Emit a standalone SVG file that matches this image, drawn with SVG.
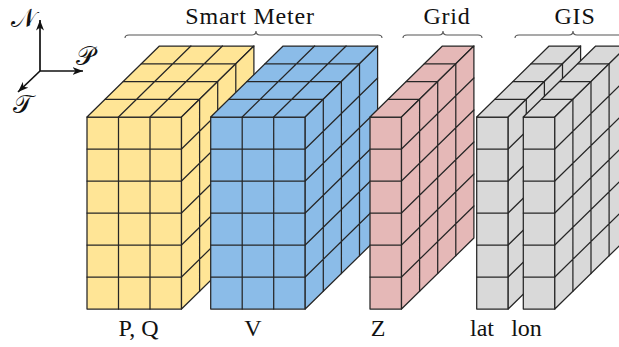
<svg xmlns="http://www.w3.org/2000/svg" xmlns:xlink="http://www.w3.org/1999/xlink" width="619" height="347" viewBox="0 0 619 347">
<style>
.cube{stroke:#262626;stroke-width:1.25;stroke-linejoin:round;stroke-linecap:round}
.grid{fill:none}
.lbl{font-size:24px;fill:#111;text-anchor:middle}
.hdr{letter-spacing:0.8px}
.brace{fill:none;stroke:#555;stroke-width:1.1}
.axis{stroke:#111;stroke-width:1.7;fill:none}
.sym{font-size:26px;fill:#111;text-anchor:middle}
</style>
<defs>
<marker id="ah" markerUnits="userSpaceOnUse" markerWidth="11" markerHeight="9" viewBox="0 0 11 9" refX="10.5" refY="4.5" orient="auto">
<path d="M0,0.5 L10.5,4.5 L0,8.5 L3,4.5 Z" fill="#111"/>
</marker>
<g id="b3" class="cube">
<rect x="0" y="117" width="94.5" height="192"/>
<polygon points="0,117 94.5,117 166.9,46 72.4,46"/>
<polygon points="94.5,117 166.9,46 166.9,238 94.5,309"/>
<path class="grid" d="M31.5,117V309M63,117V309M0,149H94.5M0,181H94.5M0,213H94.5M0,245H94.5M0,277H94.5
M31.5,117L103.9,46M63,117L135.4,46M18.1,99.25H112.6M36.2,81.5H130.7M54.3,63.75H148.8
M112.6,99.25V291.25M130.7,81.5V273.5M148.8,63.75V255.75
M94.5,149L166.9,78M94.5,181L166.9,110M94.5,213L166.9,142M94.5,245L166.9,174M94.5,277L166.9,206"/>
</g>
<g id="b1" class="cube">
<rect x="0" y="117" width="31.5" height="192"/>
<polygon points="0,117 31.5,117 103.9,46 72.4,46"/>
<polygon points="31.5,117 103.9,46 103.9,238 31.5,309"/>
<path class="grid" d="M0,149H31.5M0,181H31.5M0,213H31.5M0,245H31.5M0,277H31.5
M18.1,99.25H49.6M36.2,81.5H67.7M54.3,63.75H85.8
M49.6,99.25V291.25M67.7,81.5V273.5M85.8,63.75V255.75
M31.5,149L103.9,78M31.5,181L103.9,110M31.5,213L103.9,142M31.5,245L103.9,174M31.5,277L103.9,206"/>
</g>
</defs>

<g id="axes">
<line class="axis" x1="40" y1="71" x2="40" y2="20" marker-end="url(#ah)"/>
<line class="axis" x1="40" y1="71" x2="83" y2="71" marker-end="url(#ah)"/>
<line class="axis" x1="40" y1="71" x2="18" y2="92" marker-end="url(#ah)"/>
<text class="sym" font-family="Liberation Serif, serif" x="23" y="27">𝒩</text>
<text class="sym" font-family="Liberation Serif, serif" x="85" y="65">𝒫</text>
<text class="sym" font-family="Liberation Serif, serif" x="23" y="113">𝒯</text>
</g>

<g id="pq">
<use xlink:href="#b3" href="#b3" x="87" y="0" fill="#FFE596"/>
<text class="lbl" font-family="Liberation Serif, serif" x="138.5" y="336">P, Q</text>
</g>
<g id="v">
<use xlink:href="#b3" href="#b3" x="210.7" y="0" fill="#8BBCE8"/>
<text class="lbl" font-family="Liberation Serif, serif" x="253" y="336">V</text>
</g>
<g id="z">
<use xlink:href="#b1" href="#b1" x="370" y="0" fill="#E5B8B7"/>
<text class="lbl" font-family="Liberation Serif, serif" x="378" y="336">Z</text>
</g>
<g id="lat">
<use xlink:href="#b1" href="#b1" x="476.7" y="0" fill="#D9D9D9"/>
<text class="lbl" font-family="Liberation Serif, serif" x="482" y="336">lat</text>
</g>
<g id="lon">
<use xlink:href="#b1" href="#b1" x="523.3" y="0" fill="#D9D9D9"/>
<text class="lbl" font-family="Liberation Serif, serif" x="526.5" y="336">lon</text>
</g>

<g id="smart-meter">
<path class="brace" d="M125,38 Q125,35 129,35 L252,35 Q256,35 256,31 Q256,35 260,35 L378,35 Q382,35 382,38"/>
<text class="lbl hdr" font-family="Liberation Serif, serif" x="250" y="24">Smart Meter</text>
</g>
<g id="grid-group">
<path class="brace" d="M403,38 Q403,35 407,35 L439,35 Q443,35 443,31 Q443,35 447,35 L478,35 Q482,35 482,38"/>
<text class="lbl hdr" font-family="Liberation Serif, serif" x="447" y="24">Grid</text>
</g>
<g id="gis-group">
<path class="brace" d="M515,38 Q515,35 519,35 L569,35 Q573,35 573,31 Q573,35 577,35 L627,35 Q631,35 631,38"/>
<text class="lbl hdr" font-family="Liberation Serif, serif" x="575" y="24">GIS</text>
</g>
</svg>
